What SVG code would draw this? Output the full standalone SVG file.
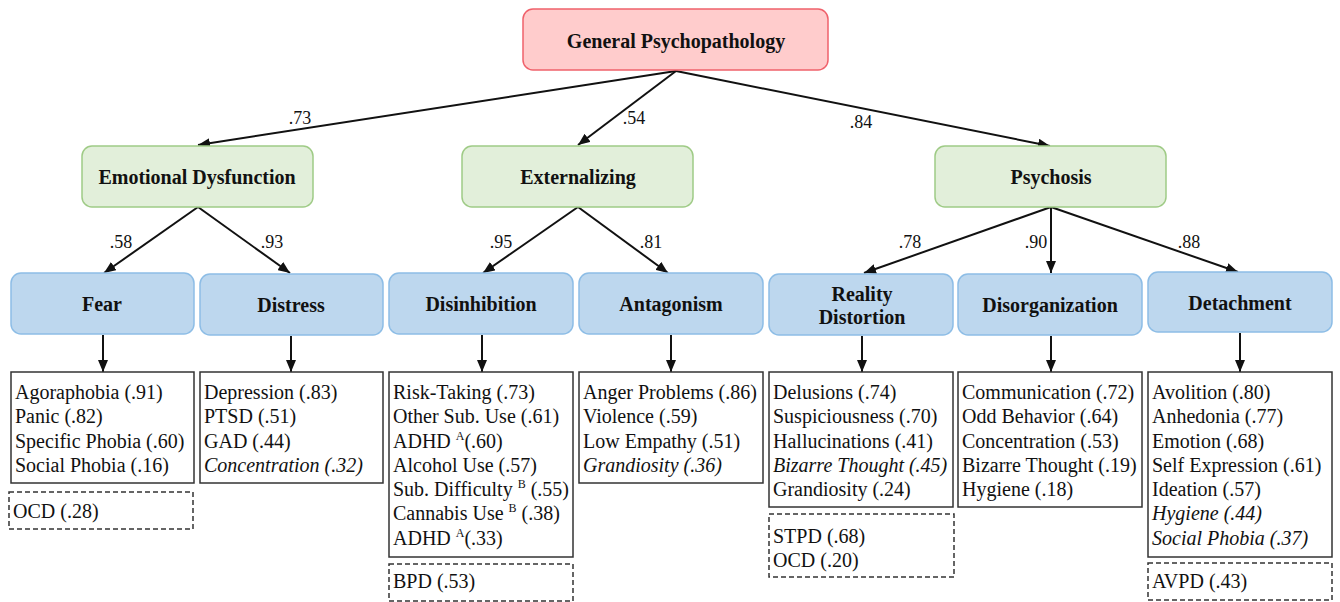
<svg xmlns="http://www.w3.org/2000/svg" width="1340" height="602" viewBox="0 0 1340 602">
<defs>
<marker id="ah" viewBox="0 0 12 10" refX="12" refY="5" markerWidth="12" markerHeight="10" markerUnits="userSpaceOnUse" orient="auto">
<path d="M0,0 L12,5 L0,10 z" fill="#111"/>
</marker>
</defs>
<style>
.top{fill:#ffcccc;stroke:#f0616b;stroke-width:1.5}
.grn{fill:#e2efda;stroke:#9fcb86;stroke-width:1.5}
.blu{fill:#bdd7ee;stroke:#8dbde6;stroke-width:1.5}
.box{fill:#fff;stroke:#333;stroke-width:1.5}
.dash{fill:#fff;stroke:#333;stroke-width:1.5;stroke-dasharray:5,3}
text{font-family:'Liberation Serif','Times New Roman','DejaVu Serif',serif}
.lbl{font-weight:bold;font-size:20px;fill:#111;text-anchor:middle}
.txt{font-size:20px;fill:#111}
.it{font-style:italic}
.el{font-size:18px;fill:#111;text-anchor:middle}
.sup{font-size:12px}
.cn line{stroke:#111;stroke-width:2;marker-end:url(#ah)}
</style>
<g id="connectors" class="cn">
<line x1="676" y1="71" x2="198" y2="145"/>
<line x1="676" y1="71" x2="578" y2="145"/>
<line x1="676" y1="71" x2="1050" y2="146"/>
<line x1="198" y1="207" x2="104" y2="273"/>
<line x1="198" y1="207" x2="290" y2="273"/>
<line x1="578" y1="207" x2="483" y2="273"/>
<line x1="578" y1="207" x2="668" y2="273"/>
<line x1="1051" y1="207" x2="864" y2="273"/>
<line x1="1051" y1="207" x2="1051" y2="273"/>
<line x1="1051" y1="207" x2="1238" y2="272"/>
<line x1="103" y1="335" x2="103" y2="372"/>
<line x1="291" y1="336" x2="291" y2="372"/>
<line x1="482" y1="335" x2="482" y2="372"/>
<line x1="671" y1="335" x2="671" y2="372"/>
<line x1="862" y1="336" x2="862" y2="372"/>
<line x1="1051" y1="336" x2="1051" y2="372"/>
<line x1="1240" y1="333" x2="1240" y2="372"/>
</g>
<g id="edge-labels">
<text class="el" x="300" y="124">.73</text>
<text class="el" x="634" y="124">.54</text>
<text class="el" x="861" y="128">.84</text>
<text class="el" x="121" y="248">.58</text>
<text class="el" x="272" y="248">.93</text>
<text class="el" x="501" y="248">.95</text>
<text class="el" x="651" y="248">.81</text>
<text class="el" x="910" y="248">.78</text>
<text class="el" x="1036" y="248">.90</text>
<text class="el" x="1189" y="248">.88</text>
</g>
<g id="general">
<rect class="top" x="523" y="9" width="305" height="61" rx="10"/>
<text class="lbl" x="676" y="48">General Psychopathology</text>
</g>
<g id="emotional">
<rect class="grn" x="82" y="146" width="231" height="61" rx="10"/>
<text class="lbl" x="197" y="184">Emotional Dysfunction</text>
</g>
<g id="externalizing">
<rect class="grn" x="462" y="146" width="231" height="61" rx="10"/>
<text class="lbl" x="578" y="184">Externalizing</text>
</g>
<g id="psychosis">
<rect class="grn" x="935" y="146" width="231" height="61" rx="10"/>
<text class="lbl" x="1051" y="184">Psychosis</text>
</g>
<g id="fear">
<rect class="blu" x="11" y="273" width="183" height="61" rx="10"/>
<text class="lbl" x="102" y="311">Fear</text>
</g>
<g id="distress">
<rect class="blu" x="200" y="274" width="183" height="61" rx="10"/>
<text class="lbl" x="291" y="312">Distress</text>
</g>
<g id="disinhibition">
<rect class="blu" x="389" y="273" width="184" height="61" rx="10"/>
<text class="lbl" x="481" y="311">Disinhibition</text>
</g>
<g id="antagonism">
<rect class="blu" x="579" y="273" width="184" height="61" rx="10"/>
<text class="lbl" x="671" y="311">Antagonism</text>
</g>
<g id="reality">
<rect class="blu" x="769" y="274" width="184" height="61" rx="10"/>
<text class="lbl" x="862" y="301">Reality</text>
<text class="lbl" x="862" y="324">Distortion</text>
</g>
<g id="disorganization">
<rect class="blu" x="958" y="274" width="184" height="61" rx="10"/>
<text class="lbl" x="1050" y="312">Disorganization</text>
</g>
<g id="detachment">
<rect class="blu" x="1148" y="272" width="184" height="60" rx="10"/>
<text class="lbl" x="1240" y="310">Detachment</text>
</g>
<g id="fear-items">
<rect class="box" x="11" y="372" width="183" height="111"/>
<text class="txt" x="15" y="399">Agoraphobia (.91)</text>
<text class="txt" x="15" y="423">Panic (.82)</text>
<text class="txt" x="15" y="448">Specific Phobia (.60)</text>
<text class="txt" x="15" y="472">Social Phobia (.16)</text>
</g>
<g id="fear-extra">
<rect class="dash" x="9" y="492" width="184" height="37"/>
<text class="txt" x="13" y="518">OCD (.28)</text>
</g>
<g id="distress-items">
<rect class="box" x="200" y="372" width="183" height="111"/>
<text class="txt" x="204" y="399">Depression (.83)</text>
<text class="txt" x="204" y="423">PTSD (.51)</text>
<text class="txt" x="204" y="448">GAD (.44)</text>
<text class="txt it" x="204" y="472">Concentration (.32)</text>
</g>
<g id="disinhibition-items">
<rect class="box" x="389" y="372" width="184" height="185"/>
<text class="txt" x="393" y="399">Risk-Taking (.73)</text>
<text class="txt" x="393" y="423">Other Sub. Use (.61)</text>
<text class="txt" x="393" y="448">ADHD <tspan class="sup" dy="-8">A</tspan><tspan dy="8">(.60)</tspan></text>
<text class="txt" x="393" y="472">Alcohol Use (.57)</text>
<text class="txt" x="393" y="496">Sub. Difficulty <tspan class="sup" dy="-8">B</tspan><tspan dy="8"> (.55)</tspan></text>
<text class="txt" x="393" y="520">Cannabis Use <tspan class="sup" dy="-8">B</tspan><tspan dy="8"> (.38)</tspan></text>
<text class="txt" x="393" y="545">ADHD <tspan class="sup" dy="-8">A</tspan><tspan dy="8">(.33)</tspan></text>
</g>
<g id="disinhibition-extra">
<rect class="dash" x="389" y="564" width="184" height="37"/>
<text class="txt" x="393" y="588">BPD (.53)</text>
</g>
<g id="antagonism-items">
<rect class="box" x="579" y="372" width="184" height="111"/>
<text class="txt" x="583" y="399">Anger Problems (.86)</text>
<text class="txt" x="583" y="423">Violence (.59)</text>
<text class="txt" x="583" y="448">Low Empathy (.51)</text>
<text class="txt it" x="583" y="472">Grandiosity (.36)</text>
</g>
<g id="reality-items">
<rect class="box" x="769" y="372" width="184" height="135"/>
<text class="txt" x="773" y="399">Delusions (.74)</text>
<text class="txt" x="773" y="423">Suspiciousness (.70)</text>
<text class="txt" x="773" y="448">Hallucinations (.41)</text>
<text class="txt it" x="773" y="472">Bizarre Thought (.45)</text>
<text class="txt" x="773" y="496">Grandiosity (.24)</text>
</g>
<g id="reality-extra">
<rect class="dash" x="769" y="514" width="185" height="63"/>
<text class="txt" x="773" y="543">STPD (.68)</text>
<text class="txt" x="773" y="567">OCD (.20)</text>
</g>
<g id="disorganization-items">
<rect class="box" x="958" y="372" width="184" height="135"/>
<text class="txt" x="962" y="399">Communication (.72)</text>
<text class="txt" x="962" y="423">Odd Behavior (.64)</text>
<text class="txt" x="962" y="448">Concentration (.53)</text>
<text class="txt" x="962" y="472">Bizarre Thought (.19)</text>
<text class="txt" x="962" y="496">Hygiene (.18)</text>
</g>
<g id="detachment-items">
<rect class="box" x="1148" y="372" width="184" height="185"/>
<text class="txt" x="1152" y="399">Avolition (.80)</text>
<text class="txt" x="1152" y="423">Anhedonia (.77)</text>
<text class="txt" x="1152" y="448">Emotion (.68)</text>
<text class="txt" x="1152" y="472">Self Expression (.61)</text>
<text class="txt" x="1152" y="496">Ideation (.57)</text>
<text class="txt it" x="1152" y="520">Hygiene (.44)</text>
<text class="txt it" x="1152" y="545">Social Phobia (.37)</text>
</g>
<g id="detachment-extra">
<rect class="dash" x="1148" y="563" width="184" height="37"/>
<text class="txt" x="1152" y="588">AVPD (.43)</text>
</g>
</svg>
